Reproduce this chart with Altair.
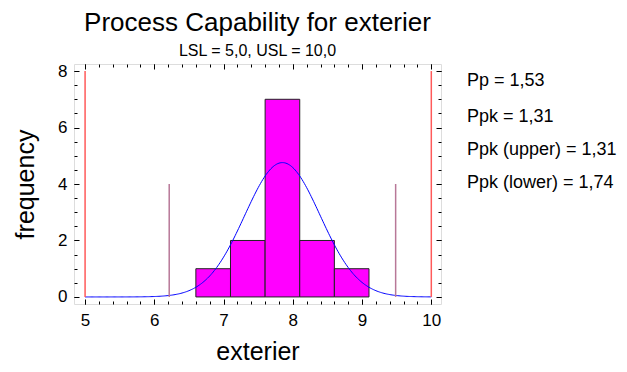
import altair as alt
import pandas as pd
import numpy as np

# ---- data ----
bin_start = [6.6, 7.1, 7.6, 8.1, 8.6]
bin_end = [7.1, 7.6, 8.1, 8.6, 9.1]
counts = [1, 2, 7, 2, 1]
spec_limits = [5.0, 10.0]
spec_top = [8, 8]
sigma_limits = [6.215, 9.485]
sigma_top = [4, 4]
fit_mean = 7.85
fit_sigma = 0.545
n_obs = 13
bin_width = 0.5
stats_labels = ["Pp = 1,53", "Ppk = 1,31", "Ppk (upper) = 1,31", "Ppk (lower) = 1,74"]
x_major = [5, 6, 7, 8, 9, 10]
x_minor = [round(5 + 0.2 * i, 1) for i in range(26)]
y_major = [0, 2, 4, 6, 8]
y_minor = [0.5 * i for i in range(17)]

FONT = "Liberation Sans"

bars_df = pd.DataFrame({"start": bin_start, "end": bin_end, "count": counts,
                        "base": [0] * len(counts)})
xs = np.linspace(5, 10, 301)
ys = n_obs * bin_width * np.exp(-0.5 * ((xs - fit_mean) / fit_sigma) ** 2) / (fit_sigma * np.sqrt(2 * np.pi))
curve_df = pd.DataFrame({"x": xs, "y": ys})
spec_df = pd.DataFrame({"x": spec_limits, "top": spec_top, "base": [0, 0]})
sig_df = pd.DataFrame({"x": sigma_limits, "top": sigma_top, "base": [0, 0]})

xscale = alt.Scale(domain=[4.84, 10.14], nice=False, zero=False)
yscale = alt.Scale(domain=[-0.25, 8.25], nice=False, zero=False)


def ax(orient, values, size, labels, title=None, **kw):
    return alt.Axis(orient=orient, values=values, tickSize=size, offset=-size,
                    domain=False, grid=False, labels=labels, title=title,
                    tickColor="black", tickWidth=1, labelColor="black",
                    labelFont=FONT, labelFontSize=17, titleFont=FONT,
                    titleFontSize=25, titleFontWeight="normal", titleColor="black",
                    **kw)


bars = alt.Chart(bars_df).mark_rect(color="#ff00ff", stroke="#222222", strokeWidth=1).encode(
    x=alt.X("start:Q", scale=xscale,
            axis=ax("bottom", x_major, 5, True, "exterier", labelPadding=8, titlePadding=11)),
    x2="end:Q",
    y=alt.Y("count:Q", scale=yscale,
            axis=ax("left", y_major, 5, True, "frequency", labelPadding=7, titlePadding=19)),
    y2="base:Q",
)

curve = alt.Chart(curve_df).mark_line(color="#0000ff", strokeWidth=1).encode(
    x=alt.X("x:Q", scale=xscale, axis=ax("bottom", x_minor, 3, False)),
    y=alt.Y("y:Q", scale=yscale, axis=ax("left", y_minor, 3, False)),
)

spec = alt.Chart(spec_df).mark_rule(color="#ff5a5a", strokeWidth=1.5).encode(
    x=alt.X("x:Q", scale=xscale, axis=ax("top", x_major, 5, False)),
    y=alt.Y("top:Q", scale=yscale, axis=ax("right", y_major, 5, False)),
    y2="base:Q",
)

sig = alt.Chart(sig_df).mark_rule(color="#b87898", strokeWidth=1.5).encode(
    x=alt.X("x:Q", scale=xscale, axis=ax("top", x_minor, 3, False)),
    y=alt.Y("top:Q", scale=yscale, axis=ax("right", y_minor, 3, False)),
    y2="base:Q",
)

label_y = [17, 53, 86, 119]
texts = [
    alt.Chart(pd.DataFrame({"t": [lab]})).mark_text(
        align="left", baseline="middle", font=FONT, fontSize=18, color="black"
    ).encode(text="t:N", x=alt.value(393), y=alt.value(py))
    for lab, py in zip(stats_labels, label_y)
]

chart = alt.layer(bars, curve, spec, sig, *texts).resolve_axis(
    x="independent", y="independent"
).properties(
    width=367,
    height=240,
    padding={"left": 66, "top": 56, "right": 176, "bottom": 60},
    autosize=alt.AutoSizeParams(type="none"),
    title=alt.TitleParams(
        text="Process Capability for exterier",
        subtitle="LSL = 5,0, USL = 10,0",
        anchor="middle", frame="group",
        font=FONT, fontSize=26, fontWeight="normal", color="black",
        subtitleFont=FONT, subtitleFontSize=16, subtitleColor="black",
        subtitlePadding=7, offset=3,
    ),
).configure_view(stroke="black", strokeWidth=1).configure(background="white")

chart.save("out.html", embed_options={"renderer": "svg", "actions": False})
